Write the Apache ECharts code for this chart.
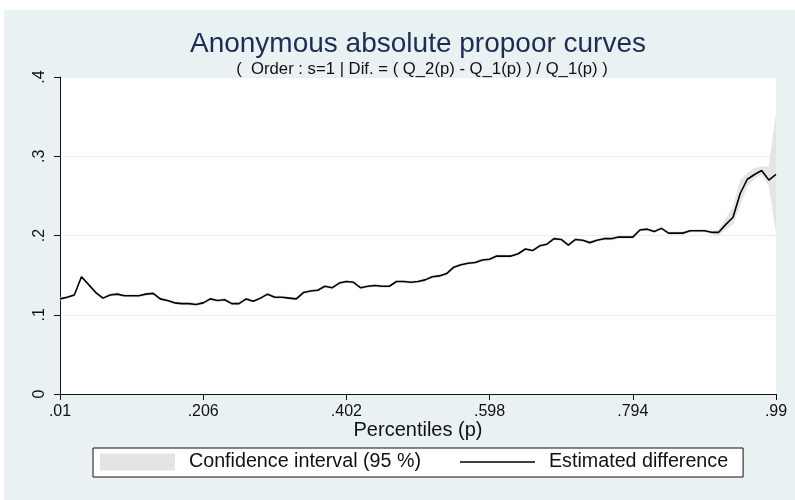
<!DOCTYPE html>
<html><head><meta charset="utf-8">
<script src="https://cdn.jsdelivr.net/npm/echarts@6/dist/echarts.min.js"></script>
<style>html,body{margin:0;padding:0;background:#fff;}#c{width:795px;height:500px;}</style>
</head><body><div id="c"></div>
<script>
// ---- data ----
const xTickLabels = ['.01', '.206', '.402', '.598', '.794', '.99'];
const yTickLabels = ['0', '.1', '.2', '.3', '.4'];
const percentiles = Array.from({length: 101}, (_, i) => (0.01 + i * 0.0098).toFixed(4));
const estimatedDifference = [
  .120,.122,.125,.148,.138,.128,.121,.125,.126,.124,
  .124,.124,.126,.127,.120,.118,.115,.114,.114,.113,
  .115,.120,.118,.119,.114,.114,.120,.117,.121,.126,
  .122,.122,.121,.120,.128,.130,.131,.136,.134,.140,
  .142,.141,.134,.136,.137,.136,.136,.142,.142,.141,
  .142,.144,.148,.149,.152,.160,.163,.165,.166,.169,
  .170,.174,.174,.174,.177,.183,.181,.187,.189,.196,
  .195,.188,.195,.194,.191,.194,.196,.196,.198,.198,
  .198,.207,.208,.205,.209,.203,.203,.203,.206,.206,
  .206,.204,.204,.214,.223,.253,.271,.277,.282,.270,
  .277
];
const ciLower = [
  .118,.120,.123,.146,.136,.126,.119,.123,.124,.122,
  .122,.122,.124,.125,.118,.116,.113,.112,.112,.111,
  .113,.118,.116,.117,.112,.112,.118,.115,.119,.124,
  .120,.120,.119,.118,.126,.128,.129,.134,.132,.138,
  .140,.139,.132,.134,.135,.134,.134,.140,.140,.139,
  .140,.142,.146,.147,.150,.158,.161,.163,.164,.167,
  .168,.172,.172,.172,.175,.181,.179,.185,.187,.194,
  .193,.186,.193,.192,.189,.192,.194,.194,.196,.196,
  .196,.205,.206,.203,.207,.201,.201,.201,.204,.204,
  .204,.202,.200,.208,.214,.238,.262,.271,.277,.262,
  .203
];
const ciUpper = [
  .122,.124,.127,.150,.140,.130,.123,.127,.128,.126,
  .126,.126,.128,.129,.122,.120,.117,.116,.116,.115,
  .117,.122,.120,.121,.116,.116,.122,.119,.123,.128,
  .124,.124,.123,.122,.130,.132,.133,.138,.136,.142,
  .144,.143,.136,.138,.139,.138,.138,.144,.144,.143,
  .144,.146,.150,.151,.154,.162,.165,.167,.168,.171,
  .172,.176,.176,.176,.179,.185,.183,.189,.191,.198,
  .197,.190,.197,.196,.193,.196,.198,.198,.200,.200,
  .200,.209,.210,.207,.211,.205,.205,.205,.208,.208,
  .208,.206,.208,.222,.236,.270,.279,.285,.287,.287,
  .355
];
const ciWidth = ciUpper.map((u, i) => +(u - ciLower[i]).toFixed(4));

const BG = '#eaf1f3';
const FONT = '"Liberation Sans", Arial, sans-serif';
const chart = echarts.init(document.getElementById('c'), null, {renderer: 'canvas'});
chart.setOption({
  animation: false,
  backgroundColor: BG,
  textStyle: {fontFamily: FONT},
  graphic: [
    {type: 'rect', shape: {x: 0, y: 0, width: 795, height: 10}, style: {fill: '#fff'}, silent: true},
    {type: 'rect', shape: {x: 0, y: 0, width: 4, height: 500}, style: {fill: '#fff'}, silent: true}
  ],
  title: [
    {text: 'Anonymous absolute propoor curves', left: 413, top: 25, textAlign: 'center',
     textStyle: {fontSize: 28, fontWeight: 'normal', color: '#1c2e52', fontFamily: FONT}},
    {text: '(  Order : s=1 | Dif. = ( Q_2(p) - Q_1(p) ) / Q_1(p) )', left: 417, top: 56, textAlign: 'center',
     textStyle: {fontSize: 16.7, fontWeight: 'normal', color: '#111', fontFamily: FONT}}
  ],
  grid: {left: 60, right: 19, top: 77, bottom: 106, show: true, backgroundColor: '#fff', borderWidth: 0},
  legend: {
    left: 93, top: 448,
    backgroundColor: '#fff', borderColor: '#111', borderWidth: 1, borderRadius: 0,
    padding: [4, 15, 5, 7],
    itemGap: 39, itemWidth: 75, itemHeight: 17, symbolKeepAspect: true,
    textStyle: {fontSize: 19.7, color: '#111', padding: [0, 0, 0, 9]},
    data: [
      {name: 'Confidence interval (95 %)', icon: 'rect', itemStyle: {color: '#e4e4e4', borderWidth: 0}},
      {name: 'Estimated difference', icon: 'path://M0,0H96V2H0Z', itemStyle: {color: '#000', borderWidth: 0}}
    ]
  },
  xAxis: {
    type: 'category', data: percentiles, boundaryGap: false,
    name: 'Percentiles (p)', nameLocation: 'middle', nameGap: 26, nameMoveOverlap: false,
    nameTextStyle: {fontSize: 20, color: '#111'},
    axisLine: {lineStyle: {color: '#111', width: 1}},
    axisTick: {show: true, interval: 19, length: 6, lineStyle: {color: '#111'}},
    axisLabel: {interval: 19, margin: 10, fontSize: 16, color: '#111',
      formatter: (v, i) => xTickLabels[i / 20] || ''},
    splitLine: {show: false}
  },
  yAxis: {
    type: 'value', min: 0, max: 0.4, interval: 0.1,
    axisLine: {show: true, lineStyle: {color: '#111', width: 1}},
    axisTick: {show: true, length: 6, lineStyle: {color: '#111'}},
    axisLabel: {rotate: 90, margin: 12, fontSize: 16, color: '#111',
      formatter: v => yTickLabels[Math.round(v * 10)]},
    splitLine: {show: true, lineStyle: {color: '#e6eef1', width: 1}}
  },
  series: [
    {name: 'ciBase', type: 'line', stack: 'ci', data: ciLower, symbol: 'none',
     lineStyle: {width: 0, opacity: 0}, silent: true, z: 1},
    {name: 'Confidence interval (95 %)', type: 'line', stack: 'ci', data: ciWidth, symbol: 'none',
     lineStyle: {width: 0, opacity: 0}, areaStyle: {color: '#e4e4e4', opacity: 1}, itemStyle: {color: '#e4e4e4'}, z: 2},
    {name: 'Estimated difference', type: 'line', data: estimatedDifference, symbol: 'none',
     lineStyle: {color: '#000', width: 1.6}, itemStyle: {color: '#000'}, z: 3}
  ]
});
</script>
</body></html>
